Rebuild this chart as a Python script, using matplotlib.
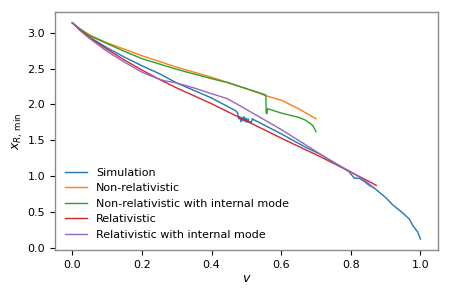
import matplotlib
matplotlib.use("Agg")
import matplotlib.pyplot as plt

# values
sim_v = [0, 0.02, 0.05, 0.1, 0.15, 0.2, 0.25, 0.3, 0.4, 0.47,
         0.475, 0.478, 0.481, 0.484, 0.487, 0.49, 0.493, 0.496, 0.499, 0.502,
         0.505, 0.508, 0.511, 0.514, 0.517, 0.52,
         0.6, 0.667, 0.71, 0.78, 0.795, 0.81, 0.825, 0.84, 0.853, 0.868,
         0.9, 0.92, 0.95, 0.968, 0.978, 0.992, 1.0]
sim_x = [3.14, 3.06, 2.94, 2.79, 2.66, 2.54, 2.43, 2.30, 2.09, 1.91,
         1.88, 1.80, 1.83, 1.76, 1.82, 1.77, 1.83, 1.76, 1.81, 1.75,
         1.80, 1.75, 1.76, 1.74, 1.80, 1.79,
         1.59, 1.41, 1.31, 1.11, 1.06, 0.97, 0.97, 0.92, 0.87, 0.83,
         0.70, 0.60, 0.48, 0.40, 0.31, 0.22, 0.12]

nonrel_v = [0, 0.02, 0.05, 0.1, 0.15, 0.2, 0.25, 0.3, 0.4, 0.5, 0.557, 0.6, 0.65, 0.7]
nonrel_x = [3.14, 3.06, 2.97, 2.86, 2.77, 2.68, 2.60, 2.52, 2.38, 2.22, 2.12, 2.06, 1.94, 1.80]

nonrel_im_v = [0, 0.02, 0.05, 0.1, 0.15, 0.2, 0.25, 0.3, 0.4, 0.45, 0.5, 0.54,
               0.556, 0.557, 0.559, 0.561, 0.6, 0.65, 0.67, 0.69, 0.7]
nonrel_im_x = [3.14, 3.06, 2.96, 2.85, 2.74, 2.64, 2.565, 2.49, 2.36, 2.30, 2.22, 2.16,
               2.13, 1.88, 1.87, 1.94, 1.88, 1.82, 1.78, 1.71, 1.62]

rel_v = [0, 0.02, 0.05, 0.1, 0.15, 0.2, 0.25, 0.3, 0.4, 0.5, 0.6, 0.66, 0.7, 0.8, 0.85, 0.873]
rel_x = [3.14, 3.05, 2.93, 2.77, 2.62, 2.48, 2.35, 2.23, 2.01, 1.77, 1.53, 1.39, 1.30, 1.055, 0.93, 0.87]

rel_im_v = [0, 0.02, 0.05, 0.1, 0.15, 0.2, 0.24, 0.265, 0.3, 0.35, 0.4, 0.446,
            0.5, 0.6, 0.69, 0.75, 0.8, 0.84, 0.868]
rel_im_x = [3.14, 3.04, 2.92, 2.74, 2.59, 2.45, 2.37, 2.33, 2.30, 2.23, 2.15, 2.08,
            1.93, 1.65, 1.375, 1.19, 1.06, 0.94, 0.83]

fig = plt.figure(figsize=(4.5, 3), dpi=100)
ax = fig.add_axes([0.122, 0.167, 0.851, 0.793])

ax.plot(sim_v, sim_x, lw=1, label="Simulation")
ax.plot(nonrel_v, nonrel_x, lw=1, label="Non-relativistic")
ax.plot(nonrel_im_v, nonrel_im_x, lw=1, label="Non-relativistic with internal mode")
ax.plot(rel_v, rel_x, lw=1, label="Relativistic")
ax.plot(rel_im_v, rel_im_x, lw=1, label="Relativistic with internal mode")

ax.set_xlabel("$v$", fontsize=9, labelpad=2)
ax.set_ylabel(r"$x_{R,\,\mathrm{min}}$", fontsize=9, labelpad=2)
ax.tick_params(labelsize=8, width=0.8, length=3.5)
for s in ax.spines.values():
    s.set_color("0.55")
    s.set_linewidth(1.0)
ax.legend(loc="lower left", frameon=False, fontsize=8)

fig.savefig("out.png", dpi=100)
